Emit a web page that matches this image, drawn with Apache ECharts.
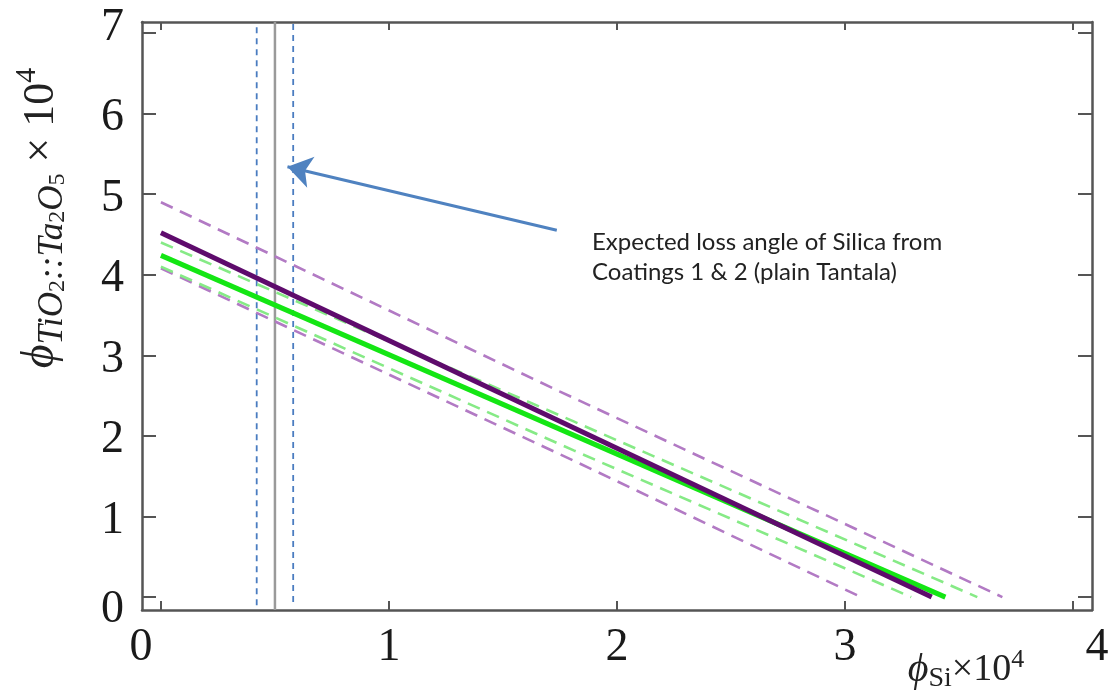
<!DOCTYPE html>
<html><head><meta charset="utf-8">
<script src="https://cdn.jsdelivr.net/npm/echarts@6/dist/echarts.min.js"></script>
<style>html,body{margin:0;padding:0;background:#fff}#c{width:1117px;height:696px}</style>
</head><body><div id="c"></div>
<script>
// ---- data ----
const xTicks = [0, 1, 2, 3, 4];
const yTicks = [0, 1, 2, 3, 4, 5, 6, 7];
const purpleSolid = [[0, 4.52], [3.38, 0]];
const greenSolid = [[0, 4.24], [3.44, 0]];
const purpleUpper = [[0, 4.90], [1.75, 2.55], [3.69, 0]];
const purpleLower = [[0, 4.08], [1.82, 1.68], [3.07, 0]];
const greenUpper = [[0, 4.40], [1.81, 2.18], [3.58, 0]];
const greenLower = [[0, 4.10], [1.81, 1.82], [3.29, 0]];
const silicaCentre = [[0.5, -0.16], [0.5, 7.136]];
const silicaLow = [[0.42, -0.1], [0.42, 7.12]];
const silicaHigh = [[0.58, -0.06], [0.58, 7.14]];
const arrowTail = [1.736, 4.553];
const arrowTip = [0.555, 5.34];
const noteLines = ['Expected loss angle of Silica from', 'Coatings 1 & 2 (plain Tantala)'];

const FRAME = '#555';
const serif = "'Liberation Serif', 'DejaVu Serif', serif";

function lineSeries(data, color, width, dash, z) {
  return {
    type: 'line', data: data, showSymbol: false, symbol: 'none', silent: true,
    lineStyle: { color: color, width: width, type: dash || 'solid', cap: 'butt' },
    z: z || 2, animation: false
  };
}

const chart = echarts.init(document.getElementById('c'));
const axisCommon = {
  type: 'value', splitLine: { show: false },
  axisLine: { show: true, onZero: false, lineStyle: { color: FRAME, width: 2.5 } }
};
const lbl = { fontFamily: serif, fontSize: 46, color: '#1a1a1a' };
chart.setOption({
  animation: false,
  grid: { left: 142, right: 25, top: 22, bottom: 86, containLabel: false, outerBoundsMode: 'none' },
  xAxis: [
    Object.assign({}, axisCommon, {
      min: -0.083, max: 4.083, position: 'bottom',
      axisTick: { show: true, inside: true, length: 9, customValues: xTicks, lineStyle: { color: FRAME, width: 2 } },
      axisLabel: Object.assign({}, lbl, {
        customValues: xTicks, margin: 15,
        formatter: function (v) {
          if (v === 0) return '{a|0}';
          if (v === 4) return '{b|4}';
          return String(v);
        },
        rich: {
          a: Object.assign({}, lbl, { padding: [0, 40, 0, 0] }),
          b: Object.assign({}, lbl, { padding: [0, 0, 0, 48] })
        }
      }),
      name: '{phi|ϕ}{sub|Si}{t|×10}{sup|4}',
      nameLocation: 'middle', nameGap: 37, nameMoveOverlap: false,
      nameTextStyle: {
        padding: [0, 0, 0, 698],
        rich: {
          phi: { fontFamily: serif, fontStyle: 'italic', fontSize: 40, color: '#222', lineHeight: 46, verticalAlign: 'middle' },
          sub: { fontFamily: serif, fontSize: 28, color: '#222', lineHeight: 46, verticalAlign: 'bottom' },
          t: { fontFamily: serif, fontSize: 38, color: '#222', lineHeight: 46, verticalAlign: 'middle' },
          sup: { fontFamily: serif, fontSize: 26, color: '#222', lineHeight: 46, verticalAlign: 'top' }
        }
      }
    }),
    Object.assign({}, axisCommon, {
      min: -0.083, max: 4.083, position: 'top',
      axisTick: { show: true, inside: true, length: 8, customValues: xTicks, lineStyle: { color: FRAME, width: 2 } },
      axisLabel: { show: false }
    })
  ],
  yAxis: [
    Object.assign({}, axisCommon, {
      min: -0.16, max: 7.136, position: 'left',
      axisTick: { show: true, inside: true, length: 14, customValues: yTicks, lineStyle: { color: FRAME, width: 2 } },
      axisLabel: Object.assign({}, lbl, {
        customValues: yTicks, margin: 18,
        formatter: function (v) { return v === 7 ? '{top|7}' : (v === 0 ? '{z|0}' : '{n|' + v + '}'); },
        rich: {
          top: Object.assign({}, lbl, { padding: [0, 0, 10, 0] }),
          n: Object.assign({}, lbl, { padding: [9, 0, 0, 0] }),
          z: Object.assign({}, lbl, { padding: [26, 0, 0, 0] })
        }
      }),
      name: '{phi|ϕ}{sub|TiO}{sub2|2}{sub|::Ta}{sub2|2}{sub|O}{sub2|5}{t| × 10}{sup|4}',
      nameLocation: 'middle', nameRotate: 90, nameGap: 72,
      nameTextStyle: {
        padding: [0, 0, 0, 196],
        rich: {
          phi: { fontFamily: serif, fontStyle: 'italic', fontSize: 46, color: '#222', lineHeight: 58, verticalAlign: 'middle' },
          sub: { fontFamily: serif, fontStyle: 'italic', fontSize: 35, color: '#222', lineHeight: 58, verticalAlign: 'bottom' },
          sub2: { fontFamily: serif, fontSize: 24, color: '#222', lineHeight: 58, verticalAlign: 'bottom' },
          t: { fontFamily: serif, fontSize: 44, color: '#222', lineHeight: 58, verticalAlign: 'middle' },
          sup: { fontFamily: serif, fontSize: 30, color: '#222', lineHeight: 58, verticalAlign: 'top' }
        }
      }
    }),
    Object.assign({}, axisCommon, {
      min: -0.16, max: 7.136, position: 'right',
      axisTick: { show: true, inside: true, length: 14, customValues: yTicks, lineStyle: { color: FRAME, width: 2 } },
      axisLabel: { show: false }
    })
  ],
  series: [
    lineSeries(silicaCentre, '#9a9a9a', 2.5, 'solid', 1),
    lineSeries(silicaLow, '#4a7cc0', 1.8, [6, 5], 1),
    lineSeries(silicaHigh, '#4a7cc0', 1.8, [6, 5], 1),
    lineSeries(purpleUpper, '#b27ac4', 2.6, [13, 8], 2),
    lineSeries(purpleLower, '#b27ac4', 2.6, [13, 8], 2),
    lineSeries(greenUpper, '#86ea86', 2.6, [13, 8], 2),
    lineSeries(greenLower, '#86ea86', 2.6, [13, 8], 2),
    lineSeries(greenSolid, '#14e614', 5, 'solid', 3),
    Object.assign(lineSeries(purpleSolid, '#5e0b6c', 5, 'solid', 4), {
      markLine: {
        silent: true, symbol: ['none', 'arrow'], symbolSize: 24, animation: false,
        label: { show: false },
        lineStyle: { color: '#4f82c0', width: 3, type: 'solid' },
        itemStyle: { color: '#4f82c0' },
        data: [[{ coord: arrowTail }, { coord: arrowTip }]]
      }
    })
  ],
  graphic: [{
    type: 'text', left: 592, top: 227, silent: true, z: 10,
    style: {
      text: noteLines.join('\n'), fill: '#222',
      font: "24px Lato, 'Open Sans', sans-serif", lineHeight: 30
    }
  }]
});
</script>
</body></html>
